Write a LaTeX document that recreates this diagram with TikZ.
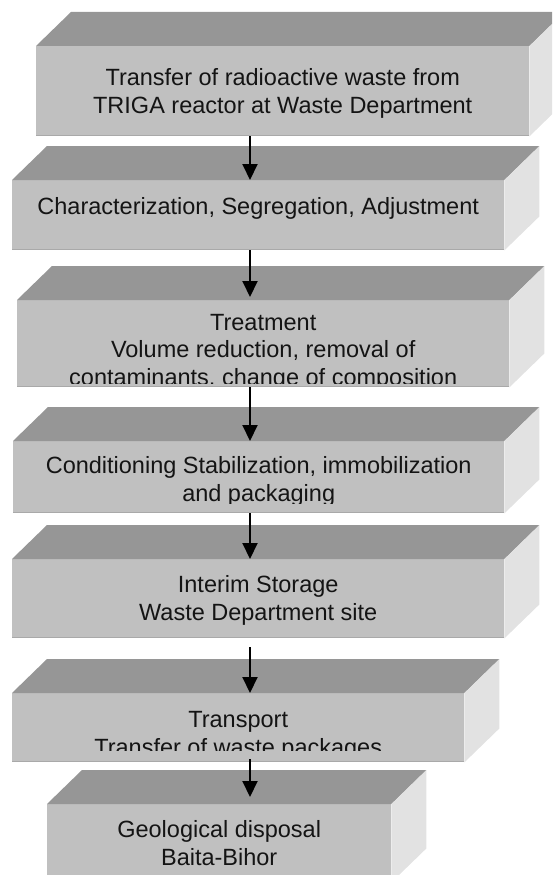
\documentclass[tikz,border=0pt]{standalone}
\usepackage{fontspec}
\setmainfont{Liberation Sans}
\usetikzlibrary{arrows.meta}
\definecolor{facegray}{HTML}{C0C0C0}
\definecolor{topgray}{HTML}{969696}
\definecolor{sidegray}{HTML}{E2E2E2}
\definecolor{edgegray}{HTML}{A9A9A9}

\begin{document}
\begin{tikzpicture}[x=1pt,y=-1pt,
  front/.style={fill=facegray,inner sep=0pt,anchor=north west},
  steptext/.style={anchor=base,align=center,inner sep=0pt,
                   font=\fontsize{23.5}{27.5}\selectfont,text=black!92},
  flow/.style={-{Triangle[length=16pt,width=15pt]},line width=2pt}]
\useasboundingbox (0,0) rectangle (552,875);
\clip (0,0) rectangle (552,875);

% front faces
\node[front,minimum width=493pt,minimum height=90pt] (b1) at (36,46)  {};
\node[front,minimum width=492pt,minimum height=70pt] (b2) at (12,180) {};
\node[front,minimum width=492pt,minimum height=87pt] (b3) at (17,300) {};
\node[front,minimum width=491pt,minimum height=72pt] (b4) at (13,441) {};
\node[front,minimum width=492pt,minimum height=79pt] (b5) at (12,559) {};
\node[front,minimum width=452pt,minimum height=69pt] (b6) at (12,693) {};
\node[front,minimum width=344pt,minimum height=78pt] (b7) at (47,804) {};

% top and side faces
\foreach \b in {b1,b2,b3,b4,b5,b6,b7} {
  \fill[topgray] (\b.north west) -- ++(35,-34) -- ([shift={(35,-34)}]\b.north east)
    -- (\b.north east) -- cycle;
  \fill[sidegray] (\b.north east) -- ([shift={(35,-34)}]\b.north east)
    -- ([shift={(35,-34)}]\b.south east) -- (\b.south east) -- cycle;
  \draw[edgegray,line width=1.5pt] ([yshift=0.75pt]\b.south west) -- ([yshift=0.75pt]\b.south east);
}

% labels (base = last line)
\node[steptext] (t1) at ([yshift=-67pt]b1.north)
  {Transfer of radioactive waste from\\TRIGA reactor at Waste Department};
\node[steptext] (t2) at ([yshift=-34pt]b2.north)
  {Characterization, Segregation, Adjustment};
\begin{scope}
  \clip (b3.north west) rectangle ([yshift=4pt]b3.south east);
  \node[steptext] (t3) at ([yshift=-85pt]b3.north)
    {Treatment\\Volume reduction, removal of\\contaminants, change of composition};
\end{scope}
\begin{scope}
  \clip (b4.north west) rectangle ([yshift=10pt]b4.south east);
  \node[steptext] (t4) at ([yshift=-60pt]b4.north)
    {Conditioning Stabilization, immobilization\\and packaging};
\end{scope}
\node[steptext] (t5) at ([yshift=-61pt]b5.north)
  {Interim Storage\\Waste Department site};
\begin{scope}
  \clip (b6.north west) rectangle ([yshift=12pt]b6.south east);
  \node[steptext] (t6) at ([yshift=-62pt]b6.north)
    {Transport\\Transfer of waste packages};
\end{scope}
\node[steptext] (t7) at ([yshift=-61pt]b7.north)
  {Geological disposal\\Baita-Bihor};

% arrows
\coordinate (ax) at (250,0);
\foreach \a/\c/\s/\e in {b1/b2/0/0,b2/b3/0/3,b3/b4/0/0,b4/b5/0/0,b5/b6/9/0,b6/b7/-3/7}
  \draw[flow,shorten <=\s pt,shorten >=\e pt] (\a.south -| ax) -- (\c.north -| ax);
\end{tikzpicture}
\end{document}
